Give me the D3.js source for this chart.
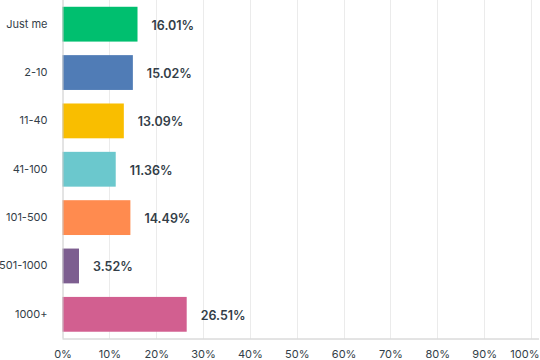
<!DOCTYPE html>
<html><head><meta charset="utf-8">
<script src="https://cdn.jsdelivr.net/npm/d3@7"></script>
<style>body{margin:0;background:#fff}svg{display:block}</style>
</head><body><svg id="c" width="540" height="360"></svg>
<script>
const categories = ["Just me","2-10","11-40","41-100","101-500","501-1000","1000+"];
const values = [16.01,15.02,13.09,11.36,14.49,3.52,26.51];
const colors = ["#00BF6F","#507CB6","#F9BE00","#6BC8CD","#FF8B4F","#7D5E90","#D25F90"];
const ticks = [0,10,20,30,40,50,60,70,80,90,100];

(function(){
const svg = d3.select("#c");
const mLeft = 62.5, mRight = 531, mTop = 0, mBottom = 338.5;
const x = d3.scaleLinear().domain([0,100]).range([mLeft,mRight]);
const y = d3.scaleBand().domain(categories).range([mTop,mBottom]).paddingInner(0.28).paddingOuter(0.14);
const font = "Inter, 'Open Sans', sans-serif";

// grid
svg.append("g").selectAll("line").data(ticks.slice(1)).join("line")
  .attr("x1",d=>Math.round(x(d))+0.5).attr("x2",d=>Math.round(x(d))+0.5)
  .attr("y1",0).attr("y2",mBottom).attr("stroke","#ebebeb").attr("stroke-width",1);

// bars
svg.append("g").selectAll("rect").data(categories).join("rect")
  .attr("x",x(0)).attr("y",d=>y(d)).attr("height",y.bandwidth())
  .attr("width",(d,i)=>x(values[i])-x(0)).attr("fill",(d,i)=>colors[i]);

// value labels
svg.append("g").selectAll("text").data(categories).join("text")
  .attr("x",(d,i)=>x(values[i])+14).attr("y",d=>y(d)+y.bandwidth()/2+1)
  .attr("dy","0.35em").attr("font-family",font).attr("font-size",12.5).attr("font-weight",600)
  .attr("fill","#333e48").text((d,i)=>values[i].toFixed(2)+"%");

// y axis
const ya = svg.append("g").attr("transform",`translate(${mLeft},0)`)
  .call(d3.axisLeft(y).tickSize(0).tickPadding(15));
ya.select(".domain").attr("stroke","#c8c8c8").attr("d",`M0.5,0V${mBottom}`);
ya.selectAll("text").attr("font-family",font).attr("font-size",11).attr("fill","#333e48");

// x axis
const xa = svg.append("g").attr("transform",`translate(0,${mBottom})`)
  .call(d3.axisBottom(x).tickValues(ticks).tickSize(0).tickPadding(12).tickFormat(d=>d+"%"));
xa.select(".domain").attr("stroke","#c8c8c8").attr("d",`M${mLeft},0.5H539`);
xa.selectAll("text").attr("font-family",font).attr("font-size",11).attr("fill","#333e48");
xa.selectAll(".tick").filter(d=>d===100).select("text").attr("text-anchor","end").attr("x",539-x(100));
})();
</script></body></html>
